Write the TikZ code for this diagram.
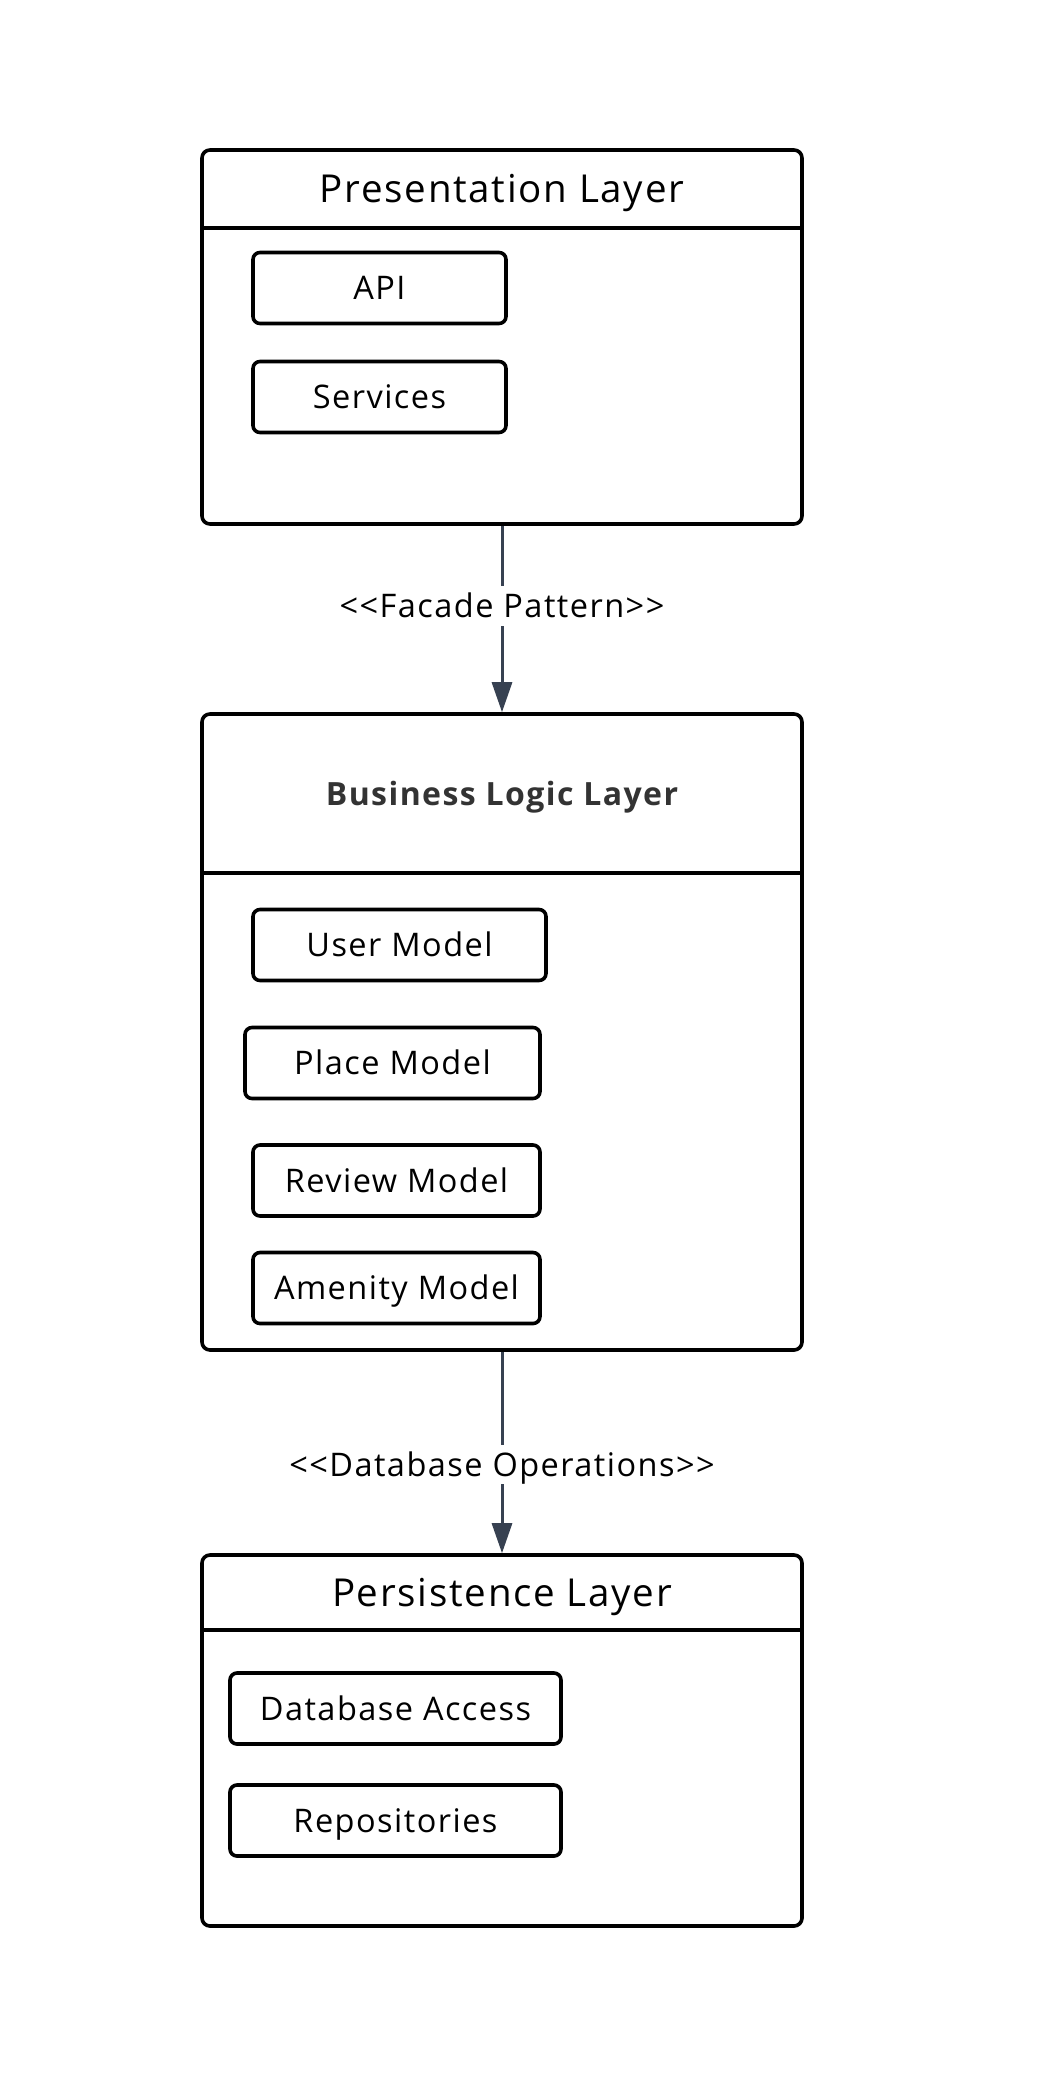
\documentclass[tikz,border=0pt]{standalone}
\usepackage{fontspec}
\setmainfont{Open Sans}[LetterSpace=4.5]
\usetikzlibrary{arrows.meta}
\definecolor{edgegray}{HTML}{374151}
\definecolor{titlegray}{HTML}{333333}

\begin{document}
\begin{tikzpicture}[x=1pt, y=-1pt,
  layer/.style = {draw, line width=3.6pt, rounded corners=8pt,
    minimum width=600pt, inner sep=0pt},
  head/.style = {minimum width=600pt, inner sep=0pt,
    text height=27.5pt, text depth=0pt,
    font=\fontsize{38.5}{44}\selectfont},
  comp/.style = {draw, line width=3.6pt, rounded corners=7pt,
    minimum height=71pt, inner sep=0pt,
    text height=23.2pt, text depth=0pt,
    font=\fontsize{32.5}{38}\selectfont},
  conn/.style = {draw=edgegray, line width=3pt,
    -{Triangle[length=30pt, width=20pt]}},
  tag/.style = {fill=white, inner xsep=3pt, inner ysep=8pt, text=black,
    text height=23.2pt, text depth=0pt,
    font=\fontsize{32.5}{38}\selectfont}]
  \useasboundingbox (0,0) rectangle (1050,2100);

  % presentation layer
  \node[layer, minimum height=374pt] (pres) at (502,337) {};
  \node[head, minimum height=78pt] (presHead) at (502,189) {Presentation Layer};
  \draw[line width=3.6pt] (pres.west |- presHead.south) -- (pres.east |- presHead.south);
  \node[comp, minimum width=253pt] (api) at (379.5,288) {API};
  \node[comp, minimum width=253pt] (services) at (379.5,397) {Services};

  % business logic layer
  \node[layer, minimum height=636pt] (logic) at (502,1032) {};
  \node[head, minimum height=159pt, text=titlegray, text height=23pt,
    font=\fontsize{32}{38}\selectfont\bfseries] (logicHead) at (502,793.5) {Business Logic Layer};
  \draw[line width=3.6pt] (logic.west |- logicHead.south) -- (logic.east |- logicHead.south);
  \node[comp, minimum width=293pt] (user) at (399.5,945) {User Model};
  \node[comp, minimum width=295pt] (place) at (392.5,1063) {Place Model};
  \node[comp, minimum width=287pt] (review) at (396.5,1180.5) {Review Model};
  \node[comp, minimum width=287pt] (amenity) at (396.5,1288) {Amenity Model};

  % persistence layer
  \node[layer, minimum height=371pt] (store) at (502,1740.5) {};
  \node[head, minimum height=75pt] (storeHead) at (502,1592.5) {Persistence Layer};
  \draw[line width=3.6pt] (store.west |- storeHead.south) -- (store.east |- storeHead.south);
  \node[comp, minimum width=331pt] (dbaccess) at (395.5,1708.5) {Database Access};
  \node[comp, minimum width=331pt] (repos) at (395.5,1820.5) {Repositories};

  % connectors
  \path[conn] (pres.south) -- node[tag, pos=0.43] {<{}<Facade Pattern>{}>} (logic.north);
  \path[conn] (logic.south) -- node[tag, pos=0.56] {<{}<Database Operations>{}>} (store.north);
\end{tikzpicture}
\end{document}
